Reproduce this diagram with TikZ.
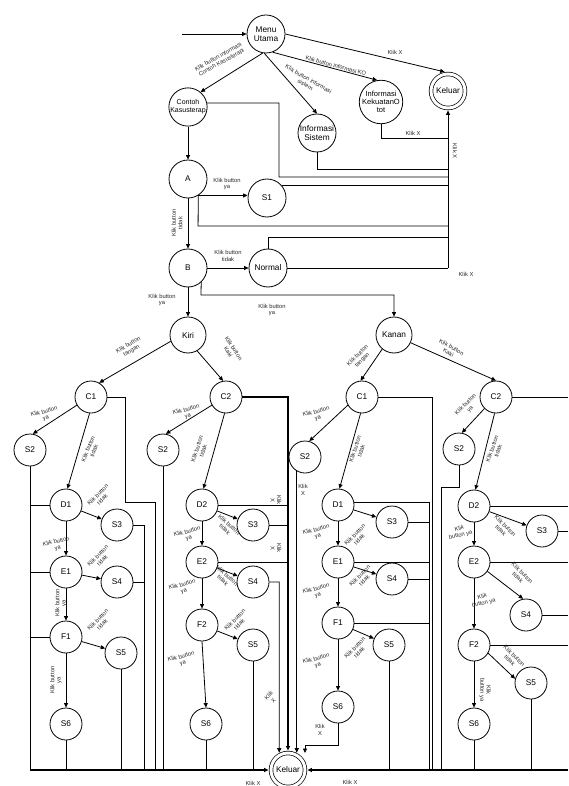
\documentclass[tikz,border=0pt]{standalone}
\usepackage{fontspec}
\setmainfont{Liberation Sans}
\usetikzlibrary{arrows.meta}
\begin{document}
\begin{tikzpicture}[x=1pt,y=-1pt,
  st/.style={draw, circle, minimum size=38pt, inner sep=0pt, align=center, line width=0.8pt, font=\fontsize{8.3}{9.3}\selectfont},
  sm/.style={st, minimum size=32pt},
  fin/.style={draw, circle, double, double distance=3pt, minimum size=34pt, inner sep=0pt, outer sep=2.4pt, line width=0.7pt, font=\fontsize{8.3}{9.3}\selectfont},
  lb/.style={font=\fontsize{5.8}{6.4}\selectfont, align=center, inner sep=0pt, text=black!85},
  ar/.style={-{Triangle[length=4.5pt,width=4pt]}, line width=0.8pt},
  ln/.style={line width=0.8pt},
  thk/.style={line width=1.8pt},
  mid/.style={line width=1.3pt}]
\useasboundingbox (0,0) rectangle (568,786);

% ---------- top nodes
\node[st] (mu) at (266,34) {Menu\\Utama};
\node[fin] (k1) at (448,91) {Keluar};
\node[st, font=\fontsize{7}{8}\selectfont] (cks) at (188,107) {Contoh\\Kasusterap};
\node[st] (isis) at (317,133) {Informasi\\Sistem};
\node[st, font=\fontsize{7.5}{8.3}\selectfont] (iko) at (381,102) {Informasi\\KekuatanO\\tot};
\node[st] (A) at (188,179) {A};
\node[st] (S1) at (267,198) {S1};
\node[st] (B) at (188,268) {B};
\node[st] (N) at (268,268) {Normal};
\node[st, minimum size=36pt] (kiri) at (188,335) {Kiri};
\node[st, minimum size=36pt] (kanan) at (394,335) {Kanan};

% ---------- left branch
\node[sm] (c1a) at (91,397) {C1};
\node[sm] (s2a) at (30,450) {S2};
\node[sm] (d1a) at (66,505) {D1};
\node[sm] (s3a) at (117,525) {S3};
\node[sm] (e1a) at (66,572) {E1};
\node[sm] (s4a) at (117,582) {S4};
\node[sm] (f1a) at (66,637) {F1};
\node[sm] (s5a) at (121,653) {S5};
\node[sm] (s6a) at (66,724) {S6};

% ---------- mid-left branch
\node[sm] (c2b) at (226,397) {C2};
\node[sm] (s2b) at (163,450) {S2};
\node[sm] (d2b) at (202,505) {D2};
\node[sm] (s3b) at (253,525) {S3};
\node[sm] (e2b) at (202,562) {E2};
\node[sm] (s4b) at (253,582) {S4};
\node[sm] (f2b) at (202,625) {F2};
\node[sm] (s5b) at (253,645) {S5};
\node[sm] (s6b) at (206,724) {S6};

% ---------- mid-right branch
\node[sm] (c1c) at (362,397) {C1};
\node[sm] (s2c) at (305,457) {S2};
\node[sm] (d1c) at (338,505) {D1};
\node[sm] (s3c) at (392,522) {S3};
\node[sm] (e1c) at (338,562) {E1};
\node[sm] (s4c) at (392,579) {S4};
\node[sm] (f1c) at (338,623) {F1};
\node[sm] (s5c) at (389,645) {S5};
\node[sm] (s6c) at (338,707) {S6};

% ---------- right branch
\node[sm] (c2d) at (496,397) {C2};
\node[sm] (s2d) at (459,449) {S2};
\node[sm] (d2d) at (474,506) {D2};
\node[sm] (s3d) at (542,531) {S3};
\node[sm] (e2d) at (474,562) {E2};
\node[sm] (s4d) at (526,615) {S4};
\node[sm] (f2d) at (474,645) {F2};
\node[sm] (s5d) at (531,683) {S5};
\node[sm] (s6d) at (474,724) {S6};

\node[fin] (k2) at (288,770) {Keluar};

% ---------- coordinates
\coordinate (st0) at (182,34);
\coordinate (kx) at (448,268);
\coordinate (vr) at (429,770);
\coordinate (re) at (568,770);
\coordinate (bl) at (30,770);
\coordinate (k2t) at (305,753);

% ---------- top connectors
\draw[ar] (st0) -- (mu.west);
\draw[ar] (mu.-100) -- (cks.50);
\draw[ar] (mu.-95) -- (isis.north);
\draw[ar] (mu.-70) -- (iko.100);
\draw[ar] (mu.east) -- (k1.100);
\draw[ln] (iko.south) -- (381,138) -- (448,138);
\draw[ln] (isis.south) -- (317,169) -- (448,169);
\draw[ln] (cks.12) -- (279,103) -- (279,177) -- (448,177);
\draw[ln] (S1.41) -- (S1.41 -| kx);
\draw[ln] (A.-58) -- (198.07,226) -- (448,226);
\draw[ln] (N.north) -- (268,237) -- (448,237);
\draw[ln] (N.east) -- (kx);
\draw[ar] (kx) -- (k1.south);
\draw[ar] (cks) -- (A);
\draw[ar] (A.-58) -- (A.-58 -| S1.west);
\draw[ar] (A) -- (B);
\draw[ar] (B) -- (N);
\draw[ar] (B) -- (kiri);
\draw[ar] (B.-47) -- (200.96,295) -- (394,295) -- (kanan.north);
\draw[ar] (kiri.200) -- (c1a.60);
\draw[ar] (kiri.-60) -- (c2b.100);
\draw[ar] (kanan.-130) -- (c1c.95);
\draw[ar] (kanan.-25) -- (c2d.north);

% ---------- left branch connectors
\draw[ar] (c1a.210) -- (s2a.80);
\draw[ar] (c1a.-95) -- (d1a.85);
\draw[ar] (d1a) -- (s3a);
\draw[ar] (d1a) -- (e1a);
\draw[ar] (e1a) -- (s4a);
\draw[ar] (e1a) -- (f1a);
\draw[ar] (f1a) -- (s5a);
\draw[ar] (f1a) -- (s6a);
\draw[ln] (c1a.east) -- (125,397) -- (125,502) -- (155,502) -- (155,770);
\draw[ln] (s3a.east) -- (144,525) -- (144,770);
\draw[ln] (s4a.east) -- (144,582);
\draw[ln] (s5a.south) -- (121,770);
\draw[ln] (s6a.south) -- (66,770);
\draw[ln] (s2a.south) -- (bl);
\draw[ln] (d1a.west) -- (30,505);
\draw[ln] (e1a.west) -- (30,572);
\draw[ln] (f1a.west) -- (30,637);
\draw[ar, thk] (bl) -- (k2.west);

% ---------- mid-left connectors
\draw[ar] (c2b.210) -- (s2b.80);
\draw[ar] (c2b.-95) -- (d2b.85);
\draw[ar] (d2b) -- (s3b);
\draw[ar] (d2b) -- (e2b);
\draw[ar] (e2b) -- (s4b);
\draw[ar] (e2b) -- (f2b);
\draw[ar] (f2b) -- (s5b);
\draw[ar] (f2b.south) -- (s6b.north);
\draw[ar, mid] (c2b.east) -- (288,397) -- (k2.north);
\draw[ln] (d2b.east) -- (288,505);
\draw[ln] (s3b.east) -- (288,525);
\draw[ln] (e2b.east) -- (288,562);
\draw[ar] (s4b.east) -- (279.2,582) -- (k2.117);
\draw[ln] (s2b.south) -- (163,770);
\draw[ln] (s5b.south) -- (253,770);
\draw[ln] (s6b.south) -- (206,770);

% ---------- mid-right connectors
\draw[ar] (c1c.210) -- (s2c.75);
\draw[ar] (c1c.-95) -- (d1c.85);
\draw[ar] (d1c) -- (s3c);
\draw[ar] (d1c) -- (e1c);
\draw[ar] (e1c) -- (s4c);
\draw[ar] (e1c) -- (f1c);
\draw[ar] (f1c) -- (s5c);
\draw[ar] (f1c) -- (s6c);
\draw[ar] (s2c.240) -- (s2c.240 |- k2.63);
\draw[ln] (c1c.east) -- (432,397) -- (432,770);
\draw[ln] (d1c.10) -- (d1c.10 -| vr) -- (vr);
\draw[ln] (s3c.east) -- (s3c.east -| vr);
\draw[ln] (e1c.east) -- (e1c.east -| vr);
\draw[ln] (s4c.east) -- (s4c.east -| vr);
\draw[ln] (f1c.east) -- (f1c.east -| vr);
\draw[ln] (s5c.south) -- (389,770);
\draw[ar] (s6c.south) -- (338,745) -- (305,745) -- (k2t);
\draw[ar, thk] (re) -- (k2.east);

% ---------- right connectors
\draw[ar] (c2d.225) -- (s2d.80);
\draw[ar] (c2d.-95) -- (d2d.85);
\draw[ar] (d2d) -- (s3d);
\draw[ar] (d2d) -- (e2d);
\draw[ar] (e2d.-35) -- (s4d.100);
\draw[ar] (e2d) -- (f2d);
\draw[ar] (f2d.-30) -- (s5d.165);
\draw[ar] (f2d) -- (s6d);
\draw[ln] (c2d.east) -- (568,397);
\draw[ln] (d2d.east) -- (568,506);
\draw[ln] (s3d.east) -- (568,531);
\draw[ln] (e2d.east) -- (568,562);
\draw[ln] (s4d.east) -- (568,615);
\draw[ln] (f2d.east) -- (568,645);
\draw[ln] (s2d.south) -- (459,487) -- (441,487) -- (441,770);
\draw[ln] (s5d.south) -- (531,770);
\draw[ln] (s6d.south) -- (474,770);

% ---------- labels top
\node[lb, rotate=29] (t1) at (220,60) {Klik button informasi\\Contoh Kasusterapi};
\node[lb, rotate=-30] (t2) at (307,82) {Klik button informasi\\sistem};
\node[lb, rotate=-15] (t3) at (336,66) {Klik button informasi KO};
\node[lb] (t4) at (395,52) {Klik X};
\node[lb] (t5) at (413,133) {Klik X};
\node[lb, rotate=-90] (t6) at (455,151) {Klik X};
\node[lb] (t7) at (227,184) {Klik button\\ya};
\node[lb, rotate=90] (t8) at (177,223) {Klik button\\tidak};
\node[lb] (t9) at (228,256) {Klik button\\tidak};
\node[lb] (t10) at (162,300) {Klik button\\ya};
\node[lb] (t11) at (272,310) {Klik button\\ya};
\node[lb] (t12) at (466,274) {Klik X};
\node[lb, rotate=30] (t13) at (130,348) {Klik button\\tangan};
\node[lb, rotate=-57] (t14) at (231,350) {Klik button\\Kaki};
\node[lb, rotate=45] (t15) at (360,358) {Klik button\\tangan};
\node[lb, rotate=-29] (t16) at (450,350) {Klik button\\Kaki};

% ---------- labels left
\node[lb, rotate=15] (a1) at (45,415) {Klik button\\ya};
\node[lb, rotate=68] (a2) at (91,450) {Klik button\\tidak};
\node[lb, rotate=45] (a3) at (100,497) {Klik button\\tidak};
\node[lb, rotate=13] (a4) at (57,545) {Klik button\\ya};
\node[lb, rotate=45] (a5) at (100,558) {Klik button\\tidak};
\node[lb, rotate=90] (a6) at (61,603) {Klik button\\ya};
\node[lb, rotate=45] (a7) at (100,622) {Klik button\\tidak};
\node[lb, rotate=90] (a8) at (56,680) {Klik button\\ya};

% ---------- labels mid-left
\node[lb, rotate=15] (b1) at (187,413) {Klik button\\ya};
\node[lb, rotate=72] (b2) at (200,450) {Klik button\\tidak};
\node[lb, rotate=-42] (b3) at (227,527) {Klik button\\tidak};
\node[lb, rotate=15] (b4) at (188,535) {Klik button\\ya};
\node[lb, rotate=-90] (b5) at (276,500) {Klik\\X};
\node[lb, rotate=-90] (b6) at (276,548) {Klik\\X};
\node[lb, rotate=-42] (b7) at (225,578) {Klik button\\tidak};
\node[lb, rotate=15] (b8) at (183,588) {Klik button\\ya};
\node[lb, rotate=45] (b9) at (237,622) {Klik button\\tidak};
\node[lb, rotate=15] (b10) at (182,660) {Klik button\\ya};
\node[lb, rotate=45] (b11) at (271,698) {Klik\\X};
\node[lb] (b12) at (253,783) {Klik X};

% ---------- labels mid-right
\node[lb, rotate=15] (m1) at (317,415) {Klik button\\ya};
\node[lb, rotate=72] (m2) at (358,450) {Klik button\\tidak};
\node[lb] (m3) at (303,490) {Klik\\X};
\node[lb, rotate=45] (m4) at (357,537) {Klik button\\tidak};
\node[lb, rotate=15] (m5) at (317,533) {Klik button\\ya};
\node[lb, rotate=45] (m6) at (362,578) {Klik button\\tidak};
\node[lb, rotate=15] (m7) at (317,592) {Klik button\\ya};
\node[lb, rotate=45] (m8) at (357,650) {Klik button\\tidak};
\node[lb, rotate=15] (m9) at (317,662) {Klik button\\ya};
\node[lb] (m10) at (320,730) {Klik\\X};
\node[lb] (m11) at (350,782) {Klik X};

% ---------- labels right
\node[lb, rotate=45] (r1) at (468,407) {Klik button\\ya};
\node[lb, rotate=70] (r2) at (495,450) {Klik button\\tidak};
\node[lb, rotate=-45] (r3) at (503,528) {Klik button\\tidak};
\node[lb, rotate=12] (r4) at (460,532) {Klik\\button ya};
\node[lb, rotate=-45] (r5) at (520,575) {Klik button\\tidak};
\node[lb, rotate=14] (r6) at (483,600) {Klik\\button ya};
\node[lb, rotate=-45] (r7) at (512,658) {Klik button\\tidak};
\node[lb, rotate=-90] (r8) at (485,690) {Klik\\button ya};
\end{tikzpicture}
\end{document}
